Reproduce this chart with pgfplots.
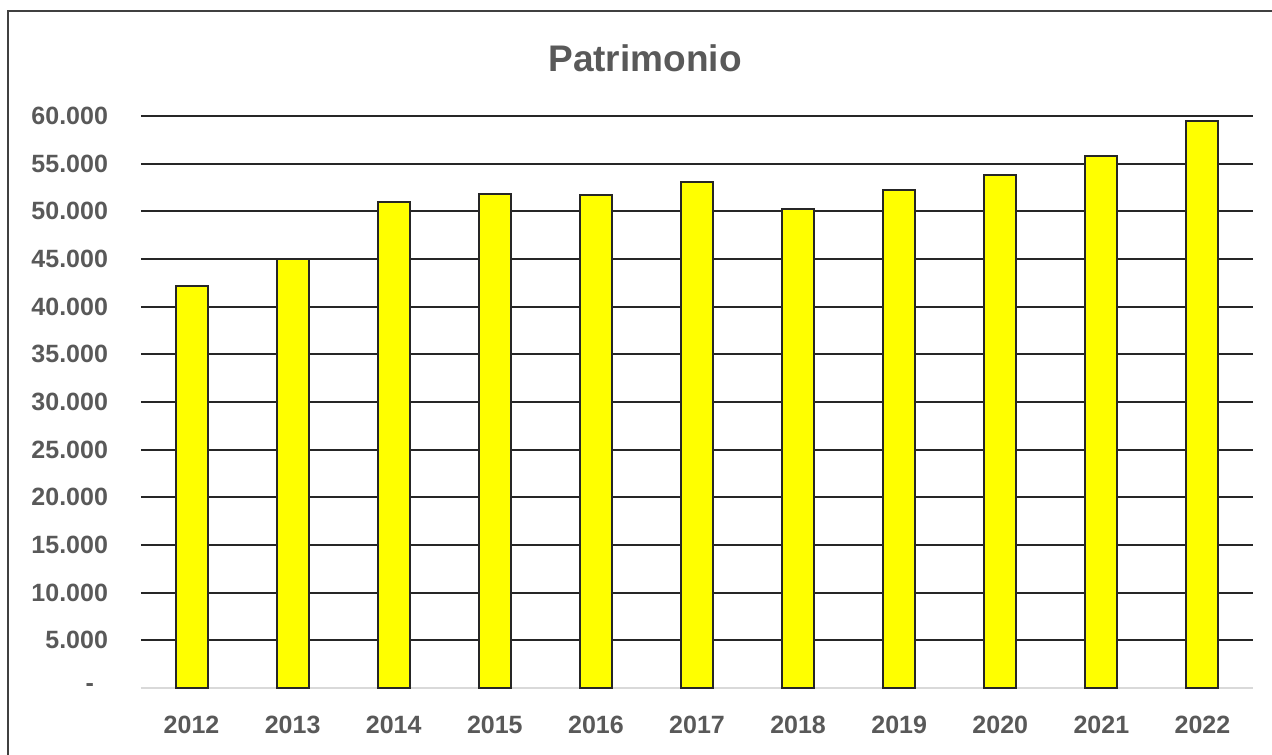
\documentclass[border=0pt]{standalone}
\usepackage{pgfplots}
\pgfplotsset{compat=1.18}
\usepackage{fontspec}
\setmainfont{Liberation Sans}
\definecolor{labgray}{HTML}{595959}
\definecolor{gridc}{HTML}{262626}
\definecolor{bary}{HTML}{FFFF00}
\begin{document}
\begin{tikzpicture}
\useasboundingbox (0,0) rectangle (636pt,377pt);
\draw[color=black!75, line width=0.8pt] (4pt,371.5pt) rectangle (645pt,-10pt);
\node[font=\fontsize{18.5}{22}\selectfont\bfseries, text=labgray] at (322.5pt,348pt) {Patrimonio};
\begin{axis}[
  at={(70.5pt,33pt)}, anchor=south west,
  scale only axis, width=556pt, height=286pt,
  xmin=-0.5, xmax=10.5, ymin=0, ymax=60000,
  scaled y ticks=false,
  ybar, bar width=16pt,
  axis line style={draw=none},
  major tick length=0pt,
  xtick=data,
  xticklabels={2012,2013,2014,2015,2016,2017,2018,2019,2020,2021,2022},
  ytick={5000,10000,...,60000},
  yticklabels={5.000,10.000,15.000,20.000,25.000,30.000,35.000,40.000,45.000,50.000,55.000,60.000},
  extra y ticks={0},
  extra y tick labels={-\rule{7pt}{0pt}},
  extra y tick style={major grid style={color=black!15, line width=1.2pt}},
  ymajorgrids,
  major grid style={color=gridc, line width=0.9pt},
  ticklabel style={font=\fontsize{12.5}{14}\selectfont\bfseries, text=labgray},
  xticklabel style={yshift=-10.5pt},
  yticklabel style={xshift=-13pt},
]
\addplot[fill=bary, draw=gridc, line width=1pt] coordinates {
(0,42170) (1,45000) (2,50980) (3,51800) (4,51700) (5,53080) (6,50250) (7,52240) (8,53810) (9,55800) (10,59450)
};
\end{axis}
\end{tikzpicture}
\end{document}
